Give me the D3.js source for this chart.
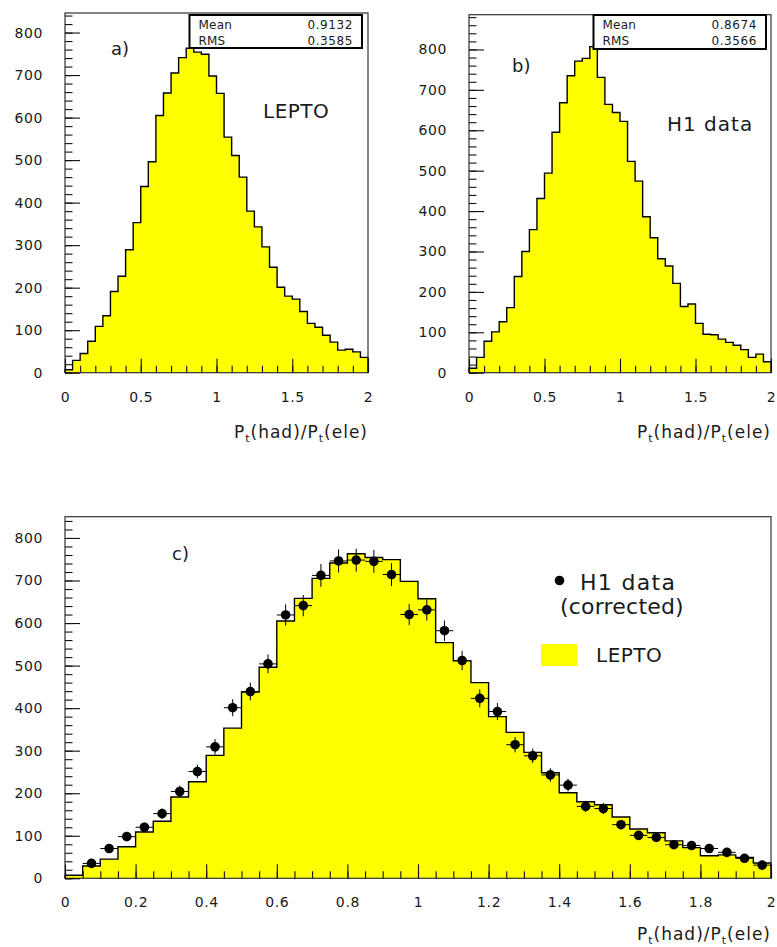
<!DOCTYPE html>
<html>
<head>
<meta charset="utf-8">
<script src="https://cdn.jsdelivr.net/npm/d3@7"></script>
<style>
  body { margin: 0; background: #fff; }
  text { font-family: "DejaVu Sans", sans-serif; fill: #1a1a1a; }
</style>
</head>
<body>
<svg id="chart" width="777" height="947"></svg>
<script>
const svg = d3.select("#chart");

// histogram binning: 40 bins of 0.05 over [0, 2]
const xRange = [0, 2];
const binWidth = 0.05;

// LEPTO (panel a, also the filled histogram of panel c)
const leptoCounts = [7, 29, 45, 74, 109, 134, 191, 227, 289, 353,
  438, 496, 605, 658, 705, 741, 763, 754, 749, 698,
  657, 554, 511, 460, 380, 343, 296, 248, 201, 180,
  173, 144, 116, 107, 88, 72, 53, 55, 49, 36];

// H1 data (panel b)
const h1Counts = [11, 38, 78, 101, 126, 161, 238, 300, 354, 431,
  494, 595, 668, 735, 771, 778, 807, 731, 664, 644,
  622, 523, 474, 386, 334, 282, 264, 221, 164, 170,
  122, 95, 94, 83, 75, 68, 57, 38, 46, 27];

// H1 data corrected (panel c points), bin 0 empty
const h1Corrected = [null, 35, 70, 98, 120, 152, 204, 251, 309, 401,
  439, 504, 619, 641, 712, 746, 748, 745, 714, 620,
  631, 582, 512, 423, 392, 314, 288, 243, 219, 169,
  164, 126, 101, 96, 79, 77, 70, 61, 47, 31];
const h1CorrectedErr = [0, 6, 8, 10, 11, 12, 14, 16, 18, 20,
  21, 22, 25, 25, 27, 27, 27, 27, 27, 25,
  25, 24, 23, 21, 20, 18, 17, 16, 15, 13,
  13, 11, 10, 10, 9, 9, 8, 8, 7, 6];

const yMajor = [0, 100, 200, 300, 400, 500, 600, 700, 800];
const xMajorTop = [0, 0.5, 1, 1.5, 2];
const xMajorBottom = [0, 0.2, 0.4, 0.6, 0.8, 1, 1.2, 1.4, 1.6, 1.8, 2];

const statsA = [["Mean", "0.9132"], ["RMS", "0.3585"]];
const statsB = [["Mean", "0.8674"], ["RMS", "0.3566"]];

function fmt(d) { return d3.format("")(+d.toFixed(2)); }

function styleLabels(a) {
  a.selectAll("text")
    .attr("font-size", 14)
    .attr("font-family", "DejaVu Sans")
    .attr("letter-spacing", 0.6)
    .attr("fill", "#1a1a1a");
}

function drawPanel(o) {
  const x = d3.scaleLinear().domain(xRange).range([o.left, o.right]);
  const y = d3.scaleLinear().domain([0, o.ymax]).range([o.bottom, o.top]);
  const g = svg.append("g");

  // filled histogram
  const pts = [[x(0), y(0)]];
  o.counts.forEach((v, i) => {
    pts.push([x(i * binWidth), y(v)]);
    pts.push([x((i + 1) * binWidth), y(v)]);
  });
  pts.push([x(xRange[1]), y(0)]);
  g.append("path")
    .attr("d", d3.line()(pts) + "Z")
    .attr("fill", "#ffff00")
    .attr("stroke", "none");
  g.append("path")
    .attr("d", d3.line()(pts))
    .attr("fill", "none")
    .attr("stroke", "#000")
    .attr("stroke-width", 1.4);

  // frame
  g.append("rect")
    .attr("x", o.left).attr("y", o.top)
    .attr("width", o.right - o.left).attr("height", o.bottom - o.top)
    .attr("fill", "none").attr("stroke", "#333").attr("stroke-width", 1.2);

  // y axis
  const yMinor = d3.range(0, o.ymax, 20);
  g.append("g").attr("transform", `translate(${o.left},0)`)
    .call(d3.axisLeft(y).tickValues(yMinor).tickSize(-7.5).tickFormat(""))
    .call(a => a.select(".domain").remove());
  g.append("g").attr("transform", `translate(${o.left},0)`)
    .call(d3.axisLeft(y).tickValues(yMajor).tickSize(-15).tickPadding(22).tickFormat(d => d))
    .call(a => a.select(".domain").remove())
    .call(styleLabels);

  // x axis
  g.append("g").attr("transform", `translate(0,${o.bottom})`)
    .call(d3.axisBottom(x).tickValues(d3.range(0, 2.001, o.xMinorStep)).tickSize(-7).tickFormat(""))
    .call(a => a.select(".domain").remove());
  g.append("g").attr("transform", `translate(0,${o.bottom})`)
    .call(d3.axisBottom(x).tickValues(o.xMajor).tickSize(-14).tickPadding(19).tickFormat(fmt))
    .call(a => a.select(".domain").remove())
    .call(styleLabels);

  g.selectAll(".tick line").attr("stroke", "#111").attr("stroke-width", 1.1);

  // axis title
  const t = g.append("text")
    .attr("x", o.right).attr("y", o.titleY)
    .attr("text-anchor", "end")
    .attr("font-size", 17)
    .attr("letter-spacing", 1);
  t.append("tspan").text("P");
  t.append("tspan").attr("dy", 4).attr("font-size", 11).text("t");
  t.append("tspan").attr("dy", -4).text("(had)/P");
  t.append("tspan").attr("dy", 4).attr("font-size", 11).text("t");
  t.append("tspan").attr("dy", -4).text("(ele)");

  return { g, x, y };
}

function statsBox(g, x0, y0, w, h, rows) {
  g.append("rect")
    .attr("x", x0).attr("y", y0).attr("width", w).attr("height", h)
    .attr("fill", "#fff").attr("stroke", "#000").attr("stroke-width", 2);
  rows.forEach((r, i) => {
    g.append("text").attr("x", x0 + 9).attr("y", y0 + 14 + i * 16)
      .attr("font-size", 12).attr("letter-spacing", 0.2).text(r[0]);
    g.append("text").attr("x", x0 + w - 9).attr("y", y0 + 14 + i * 16)
      .attr("text-anchor", "end")
      .attr("font-size", 12).attr("letter-spacing", 0.6).text(r[1]);
  });
}

// panel a
const pa = drawPanel({ left: 65, right: 368, top: 13, bottom: 372.7, ymax: 846,
  counts: leptoCounts, xMajor: xMajorTop, xMinorStep: 0.1, titleY: 438 });
statsBox(pa.g, 189.5, 15, 172.5, 33, statsA);
pa.g.append("text").attr("x", 111).attr("y", 55).attr("font-size", 18).text("a)");
pa.g.append("text").attr("x", 263).attr("y", 118).attr("font-size", 20).attr("letter-spacing", 0.5).text("LEPTO");

// panel b
const pb = drawPanel({ left: 469, right: 771, top: 14.7, bottom: 372.7, ymax: 886,
  counts: h1Counts, xMajor: xMajorTop, xMinorStep: 0.1, titleY: 438 });
statsBox(pb.g, 593.5, 15, 172.5, 34, statsB);
pb.g.append("text").attr("x", 512).attr("y", 72).attr("font-size", 18).text("b)");
pb.g.append("text").attr("x", 667).attr("y", 131).attr("font-size", 20).attr("letter-spacing", 1).text("H1 data");

// panel c
const pc = drawPanel({ left: 65, right: 771, top: 516.7, bottom: 878.3, ymax: 850,
  counts: leptoCounts, xMajor: xMajorBottom, xMinorStep: 0.05, titleY: 940 });

const pts = h1Corrected.map((v, i) => ({ v, e: h1CorrectedErr[i], c: (i + 0.5) * binWidth, i }))
  .filter(d => d.v !== null);
const pg = pc.g.append("g");
pg.selectAll("line.h").data(pts).enter().append("line")
  .attr("x1", d => pc.x(d.c - binWidth / 2)).attr("x2", d => pc.x(d.c + binWidth / 2))
  .attr("y1", d => pc.y(d.v)).attr("y2", d => pc.y(d.v))
  .attr("stroke", "#000").attr("stroke-width", 1);
pg.selectAll("line.v").data(pts).enter().append("line")
  .attr("x1", d => pc.x(d.c)).attr("x2", d => pc.x(d.c))
  .attr("y1", d => pc.y(d.v - d.e)).attr("y2", d => pc.y(d.v + d.e))
  .attr("stroke", "#000").attr("stroke-width", 1);
pg.selectAll("circle").data(pts).enter().append("circle")
  .attr("cx", d => pc.x(d.c)).attr("cy", d => pc.y(d.v))
  .attr("r", 4.8).attr("fill", "#000");

pc.g.append("text").attr("x", 172).attr("y", 560).attr("font-size", 18).text("c)");

// legend
pc.g.append("circle").attr("cx", 559.5).attr("cy", 580.5).attr("r", 4.8).attr("fill", "#000");
pc.g.append("text").attr("x", 580).attr("y", 590).attr("font-size", 22).attr("letter-spacing", 1.3).text("H1 data");
pc.g.append("text").attr("x", 560).attr("y", 614).attr("font-size", 22).attr("letter-spacing", 0.2).text("(corrected)");
pc.g.append("rect").attr("x", 541).attr("y", 644).attr("width", 36).attr("height", 22).attr("fill", "#ffff00");
pc.g.append("text").attr("x", 596).attr("y", 662).attr("font-size", 20).attr("letter-spacing", 0.5).text("LEPTO");
</script>
</body>
</html>
